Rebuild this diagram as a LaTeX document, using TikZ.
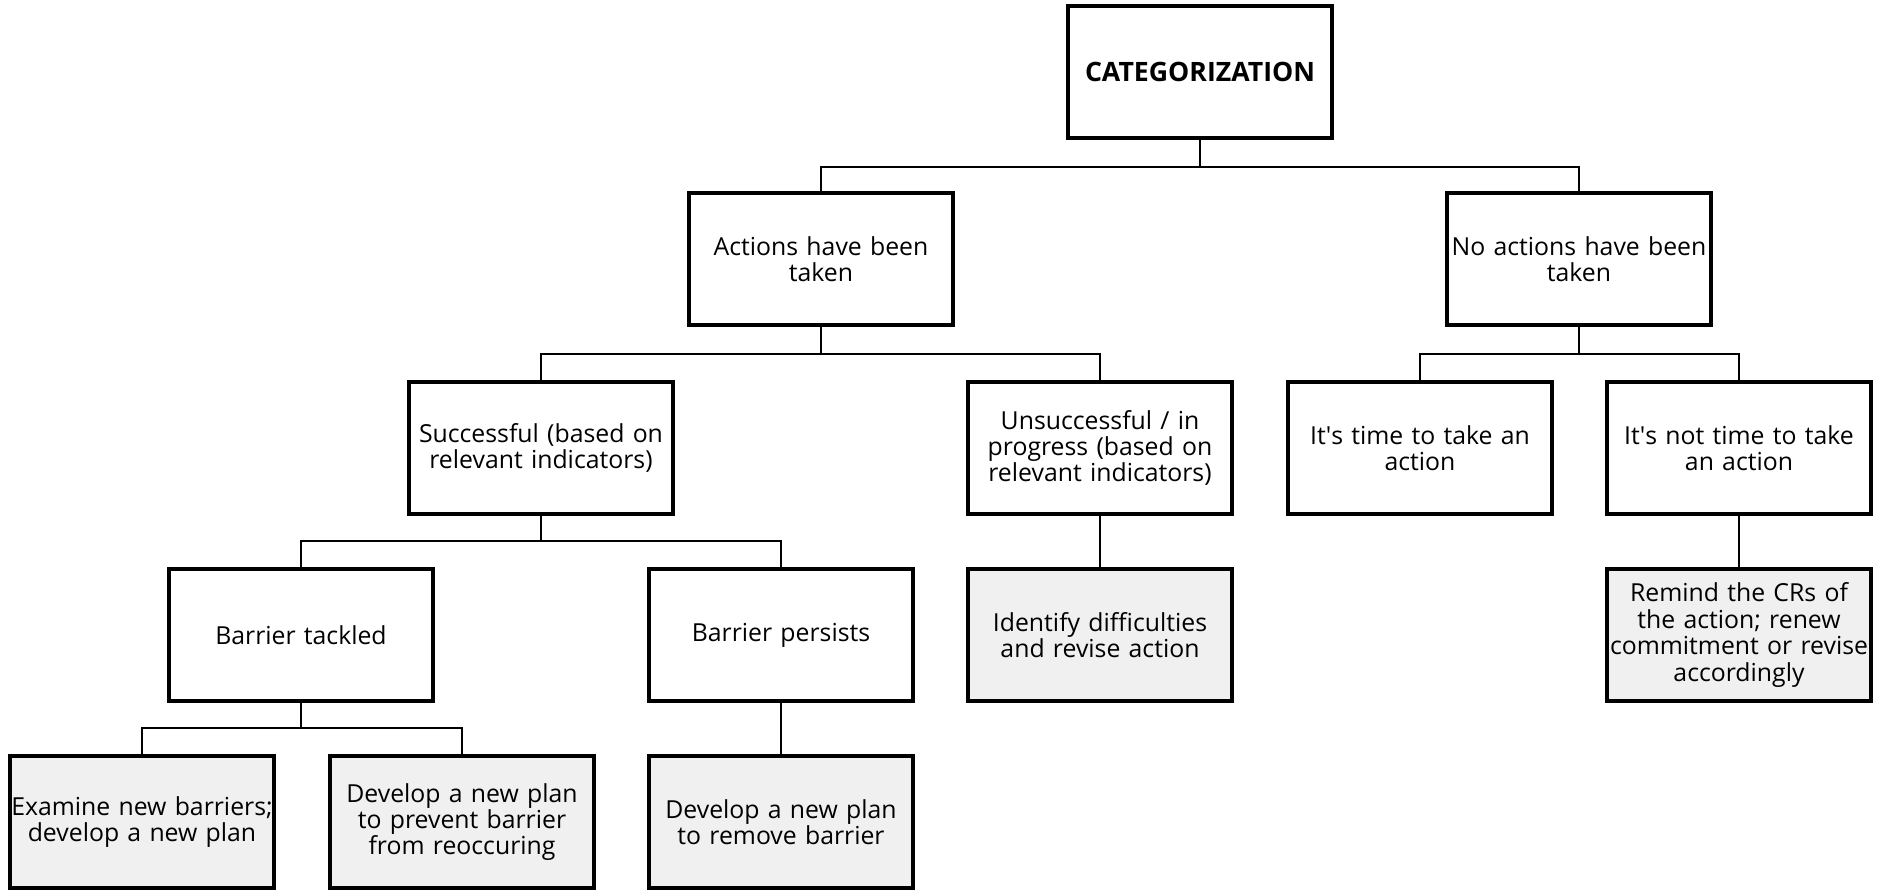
\documentclass[tikz,border=0pt]{standalone}
\usepackage{fontspec}
\setmainfont{Open Sans}
\begin{document}
\begin{tikzpicture}[x=0.75pt,y=-0.75pt,
  box/.style={draw=black, line width=2.6pt, fill=white, minimum width=198pt, minimum height=99pt,
    text width=198pt, align=center, inner sep=0pt, font=\fontsize{18.6}{19.8}\selectfont},
  leaf/.style={box, fill=leafgray},
  conn/.style={draw=black, line width=1.6pt}]
\definecolor{leafgray}{HTML}{F0F0F0}
\useasboundingbox (0,0) rectangle (1881,890);
\node[box, font=\fontsize{20}{22}\selectfont\bfseries] (cat) at (1200,72) {CATEGORIZATION};
\node[box] (act) at (821,259) {Actions have been\\taken};
\node[box] (noact) at (1579,259) {No actions have been\\taken};
\node[box] (succ) at (541,448) {Successful (based on\\relevant indicators)};
\node[box] (unsucc) at (1100,448) {Unsuccessful / in\\progress (based on\\relevant indicators)};
\node[box] (time) at (1420,448) {It\textquotesingle s time to take an\\action};
\node[box] (nottime) at (1739,448) {It\textquotesingle s not time to take\\an action};
\node[box] (tackled) at (301,635) {Barrier tackled};
\node[box] (persists) at (781,635) {Barrier persists};
\node[leaf] (identify) at (1100,635) {Identify difficulties\\and revise action};
\node[leaf] (remind) at (1739,635) {Remind the CRs of\\the action; renew\\commitment or revise\\accordingly};
\node[leaf] (examine) at (142,822) {Examine new barriers;\\develop a new plan};
\node[leaf] (prevent) at (462,822) {Develop a new plan\\to prevent barrier\\from reoccuring};
\node[leaf] (remove) at (781,822) {Develop a new plan\\to remove barrier};
\coordinate (b1) at (0,167);
\coordinate (b2) at (0,354);
\coordinate (b3) at (0,541);
\coordinate (b4) at (0,728);
\draw[conn] (cat.south) -- (cat.south |- b1) -| (act.north);
\draw[conn] (cat.south |- b1) -| (noact.north);
\draw[conn] (act.south) -- (act.south |- b2) -| (succ.north);
\draw[conn] (act.south |- b2) -| (unsucc.north);
\draw[conn] (noact.south) -- (noact.south |- b2) -| (time.north);
\draw[conn] (noact.south |- b2) -| (nottime.north);
\draw[conn] (succ.south) -- (succ.south |- b3) -| (tackled.north);
\draw[conn] (succ.south |- b3) -| (persists.north);
\draw[conn] (unsucc.south) -- (identify.north);
\draw[conn] (nottime.south) -- (remind.north);
\draw[conn] (tackled.south) -- (tackled.south |- b4) -| (examine.north);
\draw[conn] (tackled.south |- b4) -| (prevent.north);
\draw[conn] (persists.south) -- (remove.north);
\end{tikzpicture}
\end{document}
